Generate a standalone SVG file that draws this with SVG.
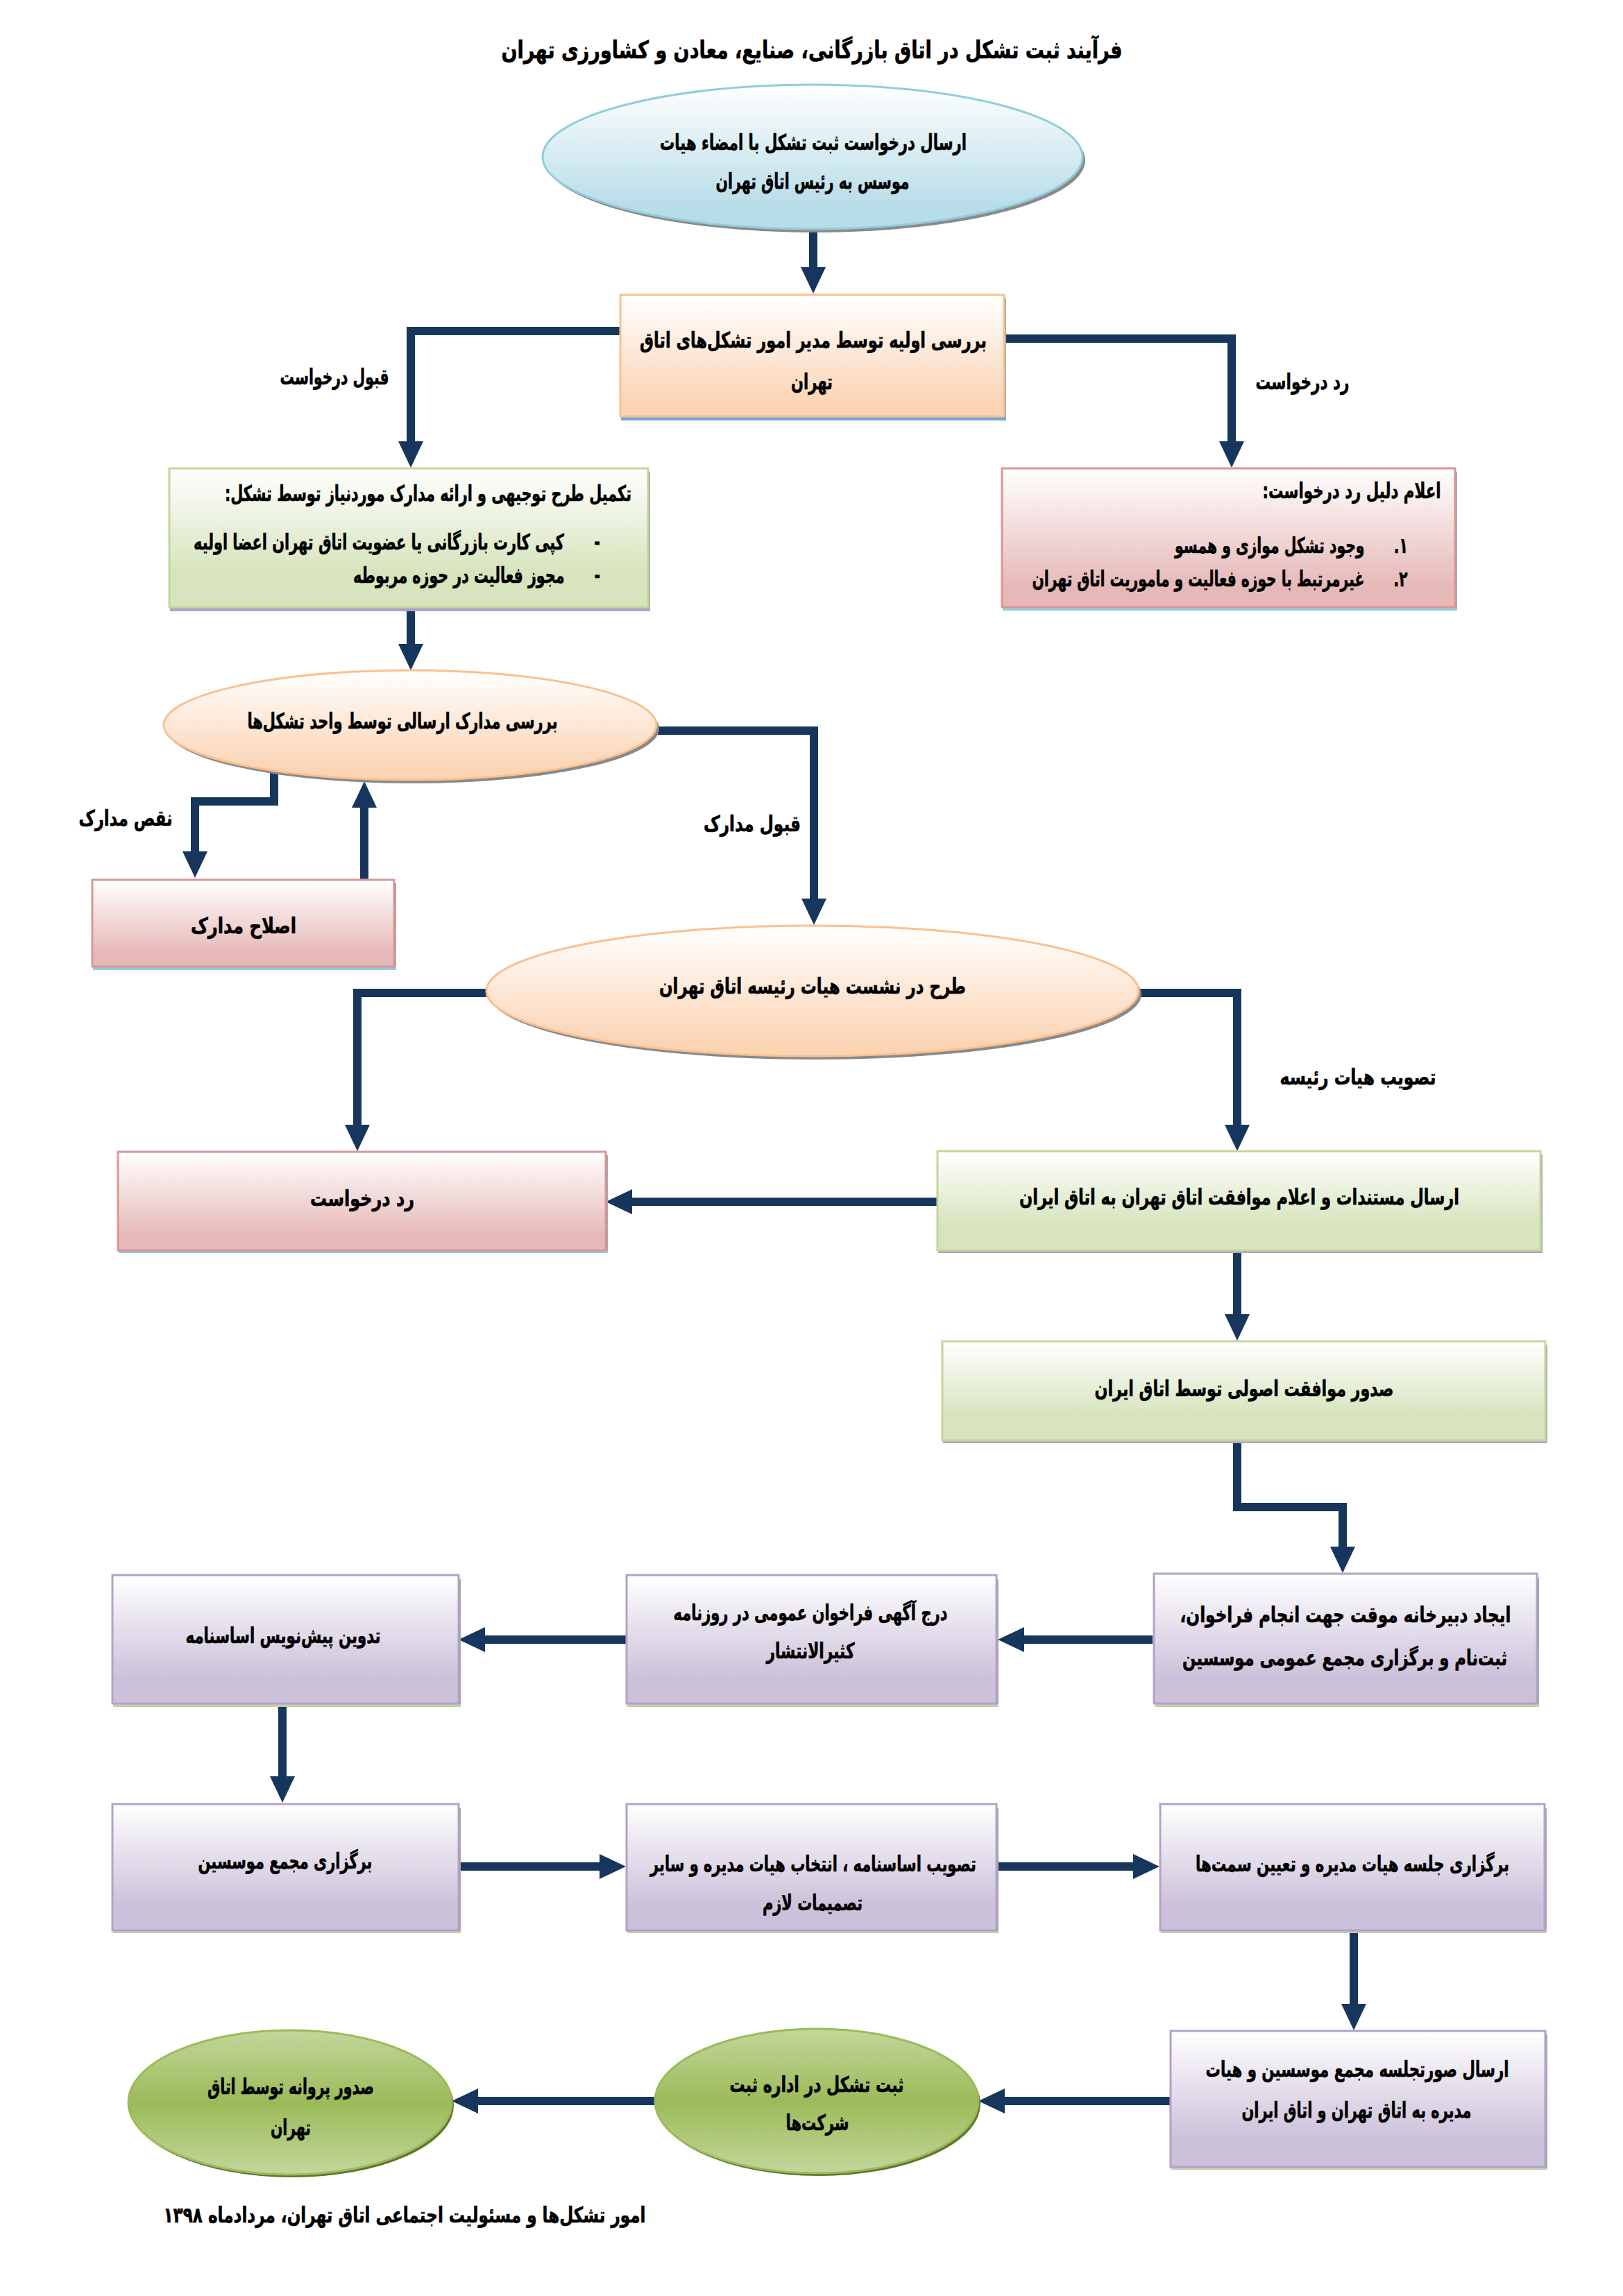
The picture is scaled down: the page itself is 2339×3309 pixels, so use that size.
<svg xmlns="http://www.w3.org/2000/svg" width="2339" height="3309" viewBox="0 0 2339 3309">
<style>
.t{font-family:"DejaVu Sans Condensed","DejaVu Sans","Noto Sans",sans-serif;font-weight:bold;font-size:31px;fill:#000;stroke:#000;stroke-width:0.6;text-anchor:middle;direction:rtl}
.ttl{font-size:35px}
.c{fill:none;stroke:#17365D;stroke-width:12;stroke-linejoin:miter}
.sh{fill:#8A8A8A}
.rs{fill:#A6A6A6}
</style>
<defs>
<linearGradient id="gBlue" x1="0" y1="0" x2="0" y2="1"><stop offset="0" stop-color="#FFFFFF"/><stop offset="0.85" stop-color="#B7DDE8"/></linearGradient>
<linearGradient id="gPeach" x1="0" y1="0" x2="0" y2="1"><stop offset="0" stop-color="#FFFFFF"/><stop offset="0.9" stop-color="#FBD4B4"/></linearGradient>
<linearGradient id="gGreen" x1="0" y1="0" x2="0" y2="1"><stop offset="0" stop-color="#FFFFFF"/><stop offset="0.75" stop-color="#D7E4BD"/></linearGradient>
<linearGradient id="gPink" x1="0" y1="0" x2="0" y2="1"><stop offset="0" stop-color="#FFFFFF"/><stop offset="0.85" stop-color="#E6B9B8"/></linearGradient>
<linearGradient id="gPurple" x1="0" y1="0" x2="0" y2="1"><stop offset="0" stop-color="#FFFFFF"/><stop offset="0.8" stop-color="#CCC1DA"/></linearGradient>
<linearGradient id="gOlive" x1="0" y1="0" x2="0" y2="1"><stop offset="0" stop-color="#C3D69B"/><stop offset="0.5" stop-color="#9BBB59"/><stop offset="1" stop-color="#C3D69B"/></linearGradient>
<marker id="ah" markerUnits="userSpaceOnUse" markerWidth="40" markerHeight="38" refX="0" refY="18" orient="auto" viewBox="0 0 40 38">
<path d="M0,0 L38,18 L0,36 z" fill="#17365D"/>
</marker>
</defs>
<rect width="2339" height="3309" fill="#FFFFFF"/>

<text class="t ttl" x="1170" y="84" textLength="895" lengthAdjust="spacingAndGlyphs">فرآیند ثبت تشکل در اتاق بازرگانی، صنایع، معادن و کشاورزی تهران</text>

<g id="connectors">
<path class="c" d="M1172,331 V385" marker-end="url(#ah)"/>
<path class="c" d="M893,477 H592 V636" marker-end="url(#ah)"/>
<path class="c" d="M1447,488 H1775 V636" marker-end="url(#ah)"/>
<path class="c" d="M592,881 V928" marker-end="url(#ah)"/>
<path class="c" d="M946,1053 H1173 V1295" marker-end="url(#ah)"/>
<path class="c" d="M395,1110 V1155 H281 V1227" marker-end="url(#ah)"/>
<path class="c" d="M525,1267 V1164" marker-end="url(#ah)"/>
<path class="c" d="M701,1431 H515 V1621" marker-end="url(#ah)"/>
<path class="c" d="M1641,1431 H1783 V1621" marker-end="url(#ah)"/>
<path class="c" d="M1350,1732 H911" marker-end="url(#ah)"/>
<path class="c" d="M1783,1806 V1894" marker-end="url(#ah)"/>
<path class="c" d="M1783,2080 V2172 H1935 V2229" marker-end="url(#ah)"/>
<path class="c" d="M1661,2363 H1476" marker-end="url(#ah)"/>
<path class="c" d="M902,2363 H699" marker-end="url(#ah)"/>
<path class="c" d="M407,2460 V2560" marker-end="url(#ah)"/>
<path class="c" d="M661,2690 H864" marker-end="url(#ah)"/>
<path class="c" d="M1436,2690 H1633" marker-end="url(#ah)"/>
<path class="c" d="M1951,2786 V2888" marker-end="url(#ah)"/>
<path class="c" d="M1686,3028 H1448" marker-end="url(#ah)"/>
<path class="c" d="M943,3028 H689" marker-end="url(#ah)"/>
<text class="t" x="482" y="554" textLength="157" lengthAdjust="spacingAndGlyphs">قبول درخواست</text>
<text class="t" x="1877" y="561" textLength="135" lengthAdjust="spacingAndGlyphs">رد درخواست</text>
<text class="t" x="181" y="1190" textLength="135" lengthAdjust="spacingAndGlyphs">نقص مدارک</text>
<text class="t" x="1084" y="1198" textLength="140" lengthAdjust="spacingAndGlyphs">قبول مدارک</text>
<text class="t" x="1957" y="1563" textLength="225" lengthAdjust="spacingAndGlyphs">تصویب هیات رئیسه</text>
</g>

<g id="n1">
<ellipse class="sh" cx="1175" cy="231" rx="389" ry="104"/>
<ellipse cx="1171" cy="226" rx="389" ry="104" fill="url(#gBlue)" stroke="#92CDDC" stroke-width="3"/>
<text class="t" x="1172" y="216" textLength="442" lengthAdjust="spacingAndGlyphs">ارسال درخواست ثبت تشکل با امضاء هیات</text>
<text class="t" x="1171" y="272" textLength="279" lengthAdjust="spacingAndGlyphs">موسس به رئیس اتاق تهران</text>
</g>

<g id="n2">
<rect class="rs" x="1447" y="430" width="3" height="176"/>
<rect x="895" y="601" width="555" height="5" fill="#6FA8DC"/>
<rect x="894" y="425" width="553" height="175" fill="url(#gPeach)" stroke="#FAC08F" stroke-width="3"/>
<text class="t" x="1172" y="501" textLength="500" lengthAdjust="spacingAndGlyphs">بررسی اولیه توسط مدیر امور تشکل‌های اتاق</text>
<text class="t" x="1170" y="561" textLength="60" lengthAdjust="spacingAndGlyphs">تهران</text>
</g>

<g id="n3">
<rect class="rs" x="934" y="680" width="3" height="201"/>
<rect x="245" y="876" width="692" height="5" fill="#B2A1C7"/>
<rect x="244" y="675" width="690" height="200" fill="url(#gGreen)" stroke="#C3D69B" stroke-width="3"/>
<text class="t" x="617" y="722" textLength="586" lengthAdjust="spacingAndGlyphs">تکمیل طرح توجیهی و ارائه مدارک موردنیاز توسط تشکل:</text>
<text class="t" x="572" y="792" textLength="586" lengthAdjust="spacingAndGlyphs">-&#160;&#160;&#160;&#160;&#160;&#160;کپی کارت بازرگانی یا عضویت اتاق تهران اعضا اولیه</text>
<text class="t" x="687" y="840" textLength="356" lengthAdjust="spacingAndGlyphs">-&#160;&#160;&#160;&#160;&#160;&#160;مجوز فعالیت در حوزه مربوطه</text>
</g>

<g id="n4">
<rect class="rs" x="2097" y="680" width="3" height="200"/>
<rect x="1445" y="876" width="655" height="4" fill="#92CDDC"/>
<rect x="1444" y="675" width="653" height="200" fill="url(#gPink)" stroke="#D99694" stroke-width="3"/>
<text class="t" x="1948" y="718" textLength="257" lengthAdjust="spacingAndGlyphs">اعلام دلیل رد درخواست:</text>
<text class="t" x="1861" y="797" textLength="336" lengthAdjust="spacingAndGlyphs">۱.&#160;&#160;&#160;&#160;&#160;&#160;وجود تشکل موازی و همسو</text>
<text class="t" x="1758" y="845" textLength="541" lengthAdjust="spacingAndGlyphs">۲.&#160;&#160;&#160;&#160;&#160;&#160;غیرمرتبط با حوزه فعالیت و ماموریت اتاق تهران</text>
</g>

<g id="n5">
<ellipse class="sh" cx="595" cy="1050" rx="355" ry="79"/>
<ellipse cx="591" cy="1045" rx="355" ry="79" fill="url(#gPeach)" stroke="#FAC08F" stroke-width="3"/>
<text class="t" x="580" y="1050" textLength="447" lengthAdjust="spacingAndGlyphs">بررسی مدارک ارسالی توسط واحد تشکل‌ها</text>
</g>

<g id="n6">
<rect class="rs" x="568" y="1273" width="3" height="125"/>
<rect x="134" y="1394" width="437" height="4" fill="#92CDDC"/>
<rect x="133" y="1268" width="435" height="125" fill="url(#gPink)" stroke="#D99694" stroke-width="3"/>
<text class="t" x="351" y="1345" textLength="152" lengthAdjust="spacingAndGlyphs">اصلاح مدارک</text>
</g>

<g id="n7">
<ellipse class="sh" cx="1175" cy="1433" rx="470" ry="94"/>
<ellipse cx="1171" cy="1428" rx="470" ry="94" fill="url(#gPeach)" stroke="#FAC08F" stroke-width="3"/>
<text class="t" x="1171" y="1432" textLength="442" lengthAdjust="spacingAndGlyphs">طرح در نشست هیات رئیسه اتاق تهران</text>
</g>

<g id="n8">
<rect class="rs" x="873" y="1665" width="3" height="141"/>
<rect x="171" y="1802" width="705" height="4" fill="#92CDDC"/>
<rect x="170" y="1660" width="703" height="142" fill="url(#gPink)" stroke="#D99694" stroke-width="3"/>
<text class="t" x="522" y="1738" textLength="150" lengthAdjust="spacingAndGlyphs">رد درخواست</text>
</g>

<g id="n9">
<rect class="rs" x="2220" y="1664" width="3" height="142"/>
<rect x="1352" y="1802" width="871" height="4" fill="#B2A1C7"/>
<rect x="1351" y="1659" width="869" height="143" fill="url(#gGreen)" stroke="#C3D69B" stroke-width="3"/>
<text class="t" x="1786" y="1736" textLength="634" lengthAdjust="spacingAndGlyphs">ارسال مستندات و اعلام موافقت اتاق تهران به اتاق ایران</text>
</g>

<g id="n10">
<rect class="rs" x="2227" y="1938" width="3" height="142"/>
<rect x="1359" y="2076" width="871" height="4" fill="#B2A1C7"/>
<rect x="1358" y="1933" width="869" height="143" fill="url(#gGreen)" stroke="#C3D69B" stroke-width="3"/>
<text class="t" x="1793" y="2012" textLength="431" lengthAdjust="spacingAndGlyphs">صدور موافقت اصولی توسط  اتاق ایران</text>
</g>

<g id="n11">
<rect class="rs" x="2215" y="2274" width="3" height="186"/>
<rect x="1665" y="2456" width="553" height="4" fill="#C3D0A8"/>
<rect x="1663" y="2268" width="552" height="187" fill="url(#gPurple)" stroke="#B2A2C7" stroke-width="3"/>
<text class="t" x="1939" y="2338" textLength="477" lengthAdjust="spacingAndGlyphs">ایجاد دبیرخانه موقت جهت انجام فراخوان،</text>
<text class="t" x="1938" y="2400" textLength="468" lengthAdjust="spacingAndGlyphs">ثبت‌نام و برگزاری مجمع عمومی موسسین</text>
</g>

<g id="n12">
<rect class="rs" x="1436" y="2276" width="3" height="184"/>
<rect x="904" y="2456" width="535" height="4" fill="#C3D0A8"/>
<rect x="903" y="2270" width="533" height="185" fill="url(#gPurple)" stroke="#B2A2C7" stroke-width="3"/>
<text class="t" x="1168" y="2335" textLength="395" lengthAdjust="spacingAndGlyphs">درج آگهی فراخوان عمومی در روزنامه</text>
<text class="t" x="1168" y="2390" textLength="127" lengthAdjust="spacingAndGlyphs">کثیرالانتشار</text>
</g>

<g id="n13">
<rect class="rs" x="661" y="2276" width="3" height="184"/>
<rect x="163" y="2456" width="501" height="4" fill="#C3D0A8"/>
<rect x="162" y="2270" width="499" height="185" fill="url(#gPurple)" stroke="#B2A2C7" stroke-width="3"/>
<text class="t" x="408" y="2368" textLength="281" lengthAdjust="spacingAndGlyphs">تدوین پیش‌نویس اساسنامه</text>
</g>

<g id="n14">
<rect class="rs" x="661" y="2606" width="3" height="180"/>
<rect x="163" y="2782" width="501" height="4" fill="#C3D0A8"/>
<rect x="162" y="2600" width="499" height="182" fill="url(#gPurple)" stroke="#B2A2C7" stroke-width="3"/>
<text class="t" x="411" y="2693" textLength="251" lengthAdjust="spacingAndGlyphs">برگزاری مجمع موسسین</text>
</g>

<g id="n15">
<rect class="rs" x="1436" y="2606" width="3" height="180"/>
<rect x="904" y="2782" width="535" height="4" fill="#C3D0A8"/>
<rect x="903" y="2600" width="533" height="182" fill="url(#gPurple)" stroke="#B2A2C7" stroke-width="3"/>
<text class="t" x="1172" y="2697" textLength="470" lengthAdjust="spacingAndGlyphs">تصویب اساسنامه ، انتخاب هیات مدیره و سایر</text>
<text class="t" x="1171" y="2753" textLength="144" lengthAdjust="spacingAndGlyphs">تصمیمات لازم</text>
</g>

<g id="n16">
<rect class="rs" x="2226" y="2606" width="3" height="180"/>
<rect x="1673" y="2782" width="556" height="4" fill="#C3D0A8"/>
<rect x="1672" y="2600" width="554" height="182" fill="url(#gPurple)" stroke="#B2A2C7" stroke-width="3"/>
<text class="t" x="1949" y="2697" textLength="452" lengthAdjust="spacingAndGlyphs">برگزاری جلسه هیات مدیره و تعیین سمت‌ها</text>
</g>

<g id="n17">
<rect class="rs" x="2227" y="2932" width="3" height="195"/>
<rect x="1688" y="3123" width="542" height="4" fill="#C3D0A8"/>
<rect x="1687" y="2927" width="540" height="196" fill="url(#gPurple)" stroke="#B2A2C7" stroke-width="3"/>
<text class="t" x="1956" y="2993" textLength="437" lengthAdjust="spacingAndGlyphs">ارسال صورتجلسه مجمع موسسین و هیات</text>
<text class="t" x="1955" y="3052" textLength="331" lengthAdjust="spacingAndGlyphs">مدیره به اتاق تهران و اتاق ایران</text>
</g>

<g id="n18">
<ellipse cx="1180" cy="3032" rx="233" ry="104" fill="#5F7530"/>
<ellipse cx="1177" cy="3028" rx="233" ry="104" fill="url(#gOlive)" stroke="#9BBB59" stroke-width="3"/>
<text class="t" x="1177" y="3015" textLength="251" lengthAdjust="spacingAndGlyphs">ثبت تشکل در اداره ثبت</text>
<text class="t" x="1178" y="3070" textLength="91" lengthAdjust="spacingAndGlyphs">شرکت‌ها</text>
</g>

<g id="n19">
<ellipse cx="421" cy="3034" rx="233" ry="104" fill="#5F7530"/>
<ellipse cx="418" cy="3030" rx="233" ry="104" fill="url(#gOlive)" stroke="#9BBB59" stroke-width="3"/>
<text class="t" x="419" y="3018" textLength="240" lengthAdjust="spacingAndGlyphs">صدور پروانه توسط اتاق</text>
<text class="t" x="419" y="3077" textLength="58" lengthAdjust="spacingAndGlyphs">تهران</text>
</g>

<text class="t" x="583" y="3203" textLength="695" lengthAdjust="spacingAndGlyphs">امور تشکل‌ها و مسئولیت اجتماعی اتاق تهران، مردادماه ۱۳۹۸</text>
</svg>
